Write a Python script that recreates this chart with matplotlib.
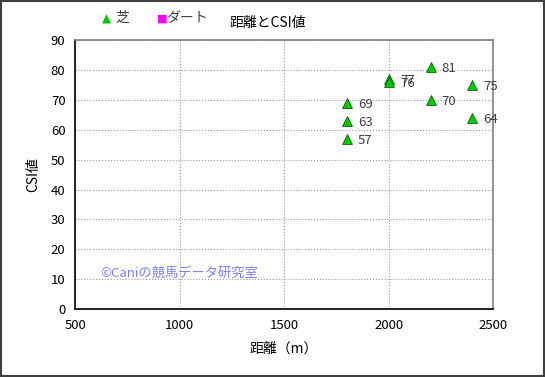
import matplotlib.pyplot as plt
from matplotlib.patches import Rectangle

plt.rcParams['font.family'] = ['Noto Sans CJK JP', 'DejaVu Sans']

# data
distance = [1800, 1800, 1800, 2000, 2000, 2200, 2200, 2400, 2400]
csi = [69, 63, 57, 77, 76, 81, 70, 75, 64]
labels = ["69", "63", "57", "77", "76", "81", "70", "75", "64"]
x_ticks = [500, 1000, 1500, 2000, 2500]
y_ticks = list(range(0, 91, 10))

fig = plt.figure(figsize=(5.45, 3.77), dpi=100)
fig.patch.set_facecolor('white')
fig.patches.append(Rectangle((0.002, 0.003), 0.996, 0.994, transform=fig.transFigure,
                             fill=False, edgecolor='#404040', linewidth=1.5))

ax = fig.add_axes([0.138, 0.180, 0.767, 0.714])
ax.set_xlim(500, 2500)
ax.set_ylim(0, 90)
ax.set_xticks(x_ticks)
ax.set_yticks(y_ticks)
ax.tick_params(length=0, labelsize=9.5, pad=7)
ax.grid(True, color='#999999', linestyle=':', linewidth=0.8)
ax.set_axisbelow(True)
for s in ['left', 'bottom']:
    ax.spines[s].set_color('black')
    ax.spines[s].set_linewidth(1.2)
for s in ['top', 'right']:
    ax.spines[s].set_color('#808080')
    ax.spines[s].set_linewidth(1.2)

ax.scatter(distance, csi, marker='^', s=50, color='#00cc00',
           edgecolors='#006600', linewidths=0.6, zorder=3, clip_on=False)
for x, y, t in zip(distance, csi, labels):
    ax.annotate(t, (x, y), xytext=(8, -1), textcoords='offset points',
                fontsize=9.5, color='#404040', va='center', ha='left')

ax.set_xlabel('距離（m）', fontsize=10, labelpad=7)
ax.set_ylabel('CSI値', fontsize=10, labelpad=8)

fig.text(0.492, 0.940, '距離とCSI値', fontsize=10, ha='center', va='center')

# legend
fig.text(0.188, 0.950, '▲', color='#00cc00', fontsize=8.5, ha='left', va='center',
         family=['DejaVu Sans'])
fig.text(0.211, 0.952, '芝', color='#404040', fontsize=10, ha='left', va='center')
fig.text(0.288, 0.950, '■', color='#ff00ff', fontsize=8, ha='left', va='center',
         family=['DejaVu Sans'])
fig.text(0.305, 0.952, 'ダート', color='#404040', fontsize=10, ha='left', va='center')

ax.text(620, 12, '©Caniの競馬データ研究室', color='#8080ff', fontsize=9.5,
        ha='left', va='center')

fig.savefig('out.png', dpi=100)
